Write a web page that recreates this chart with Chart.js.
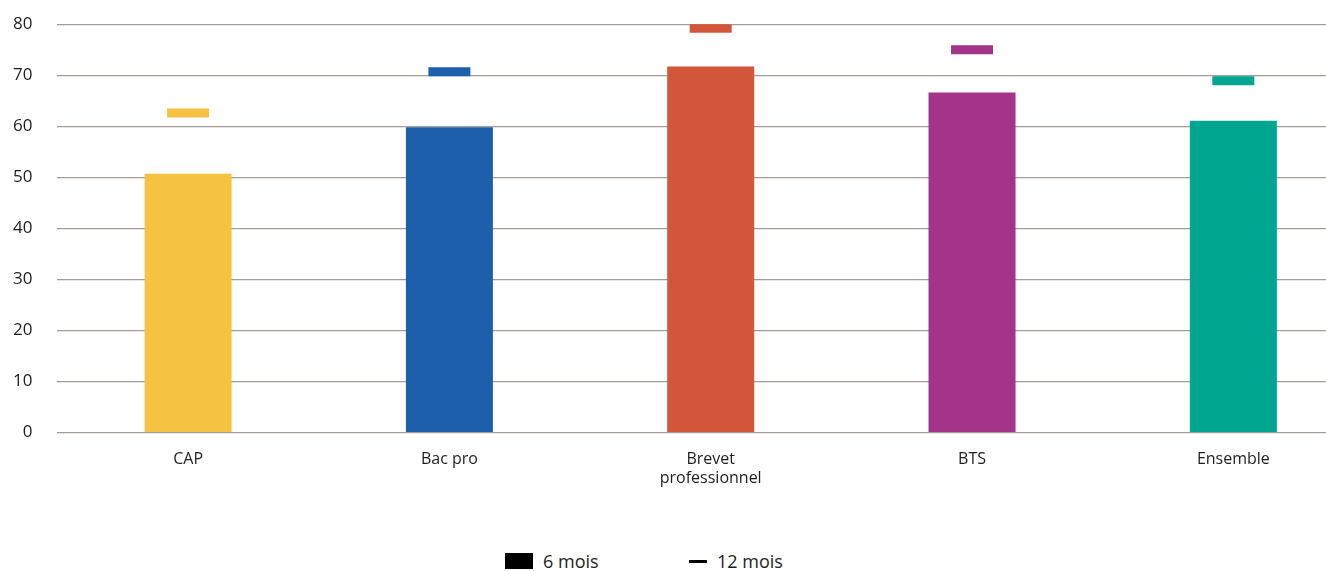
<!DOCTYPE html>
<html>
<head>
<meta charset="utf-8">
<script src="https://cdn.jsdelivr.net/npm/chart.js@4"></script>
<style>
  html, body { margin: 0; padding: 0; background: #fff; overflow: hidden; }
  body { width: 1326px; height: 571px; position: relative; font-family: "Open Sans", sans-serif; }
  #wrap { position: absolute; left: -24px; top: -11px; width: 1388px; height: 508px; }
  #legend { position: absolute; top: 549px; left: 505px; font-size: 18px; color: #1e1e1e; display: flex; }
  .item { display: flex; align-items: center; }
  .box { width: 28px; height: 16px; background: #000; margin-right: 10px; }
  .line { width: 18px; height: 3px; background: #000; margin-right: 10px; }
</style>
</head>
<body>
<div id="wrap"><canvas id="chart"></canvas></div>
<div id="legend">
  <div class="item" style="width:184px"><span class="box"></span>6 mois</div>
  <div class="item"><span class="line"></span>12 mois</div>
</div>
<script>
const categories = ["CAP", "Bac pro", ["Brevet", "professionnel"], "BTS", "Ensemble"];
const sixMonths = [50.7, 59.8, 71.7, 66.6, 61.1];
const twelveMonths = [62.6, 70.7, 79.2, 75.0, 68.9];
const colors = ["#f5c242", "#1d5fab", "#d3563b", "#a33489", "#00a690"];
const yTicks = [0, 10, 20, 30, 40, 50, 60, 70, 80];

new Chart(document.getElementById("chart"), {
  type: 'bar',
  data: {
    labels: categories,
    datasets: [{
      type: 'line',
      label: "12 mois",
      data: twelveMonths,
      showLine: false,
      pointStyle: 'line',
      pointRadius: 21,
      pointHoverRadius: 21,
      pointBorderWidth: 9,
      pointHoverBorderWidth: 9,
      pointBorderColor: colors,
      pointBackgroundColor: colors
    }, {
      label: "6 mois",
      data: sixMonths,
      backgroundColor: colors,
      barPercentage: 0.333,
      categoryPercentage: 1
    }]
  },
  options: {
    responsive: true,
    maintainAspectRatio: false,
    animation: false,
    layout: { autoPadding: false, padding: { top: 14, left: 12, right: 0 } },
    plugins: {
      legend: { display: false },
      tooltip: { enabled: false }
    },
    scales: {
      x: {
        grid: { display: false },
        border: { display: false },
        ticks: {
          color: "#1e1e1e",
          font: { family: "Open Sans", size: 16 },
          padding: 9,
          maxRotation: 0
        }
      },
      y: {
        min: 0,
        max: 80,
        afterBuildTicks: axis => { axis.ticks = yTicks.map(v => ({ value: v })); },
        grid: { color: "#a39c99", lineWidth: 1.2, drawTicks: false },
        border: { display: false },
        ticks: {
          color: "#1e1e1e",
          font: { family: "Open Sans", size: 17 },
          padding: 25
        }
      }
    }
  }
});
</script>
</body>
</html>
